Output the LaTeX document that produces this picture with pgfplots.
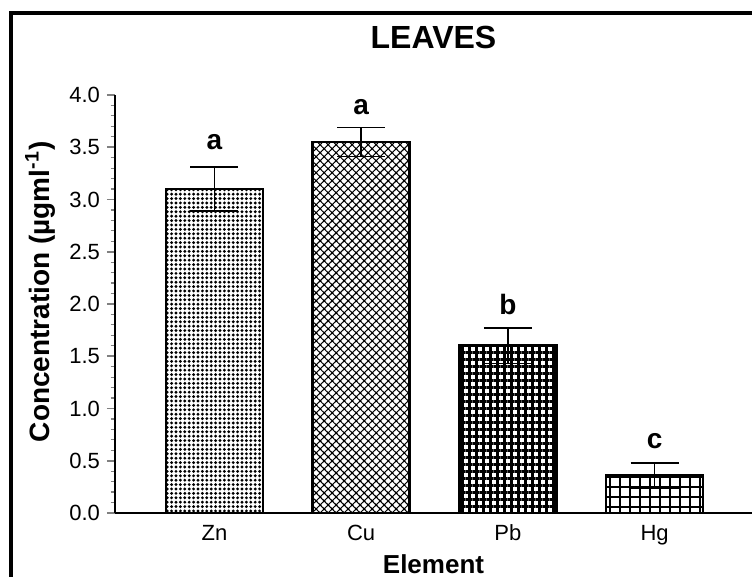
\documentclass[border=0pt]{standalone}
\usepackage{fontspec}
\setmainfont{Liberation Sans}
\usepackage{pgfplots}
\pgfplotsset{compat=1.18}
\usetikzlibrary{patterns.meta}

\begin{document}
\begin{tikzpicture}
\begin{axis}[
  scale only axis,
  width=318.5pt, height=209pt,
  xmin=-0.678, xmax=3.664,
  ymin=0, ymax=4,
  axis x line=bottom, axis y line=left,
  axis line style={-},
  x axis line style={line width=0.7pt},
  y axis line style={line width=1pt},
  clip=false,
  ybar, bar shift=0pt, bar width=48.5pt,
  xtick={0,1,2,3},
  xticklabels={Zn,Cu,Pb,Hg},
  xtick style={draw=none},
  ytick={0,0.5,...,4},
  minor y tick num=4,
  tick align=outside,
  major tick length=4pt,
  minor tick length=2.2pt,
  ytick style={line width=0.8pt},
  minor y tick style={line width=0.6pt},
  yticklabel style={/pgf/number format/.cd, fixed, fixed zerofill, precision=1},
  /pgf/number format/assume math mode=true,
  tick label style={font=\fontsize{11}{13}\selectfont},
  xticklabel style={yshift=1.5pt},
  xlabel={\textbf{Element}},
  xlabel style={at={(axis description cs:0.5,0)}, anchor=center, yshift=-25.5pt,
                font=\fontsize{13}{14}\selectfont},
  ylabel={\textbf{Concentration (µgml\textsuperscript{-1})}},
  ylabel style={at={(axis description cs:-0.1177,0.529)}, anchor=center,
                font=\fontsize{14}{15}\selectfont},
  every axis plot/.append style={draw=black, line width=1.3pt},
  error bars/error bar style={line width=0.7pt},
  error bars/error mark options={line width=0.7pt, mark size=12pt, rotate=90},
]
% Zn
\addplot[pattern={Dots[distance=2.2pt, radius=0.8pt]},
  error bars/.cd, y dir=both, y explicit]
  coordinates {(0,3.10) +- (0,0.21)};
% Cu
\addplot[pattern={Hatch[angle=45, distance=2.83pt, line width=0.55pt]},
  error bars/.cd, y dir=both, y explicit]
  coordinates {(1,3.55) +- (0,0.14)};
% Pb
\addplot[pattern={Hatch[angle=0, distance=3.5pt, line width=1.5pt]},
  error bars/.cd, y dir=both, y explicit]
  coordinates {(2,1.60) +- (0,0.17)};
% Hg
\addplot[pattern={Hatch[angle=0, distance=5pt, line width=0.55pt]},
  error bars/.cd, y dir=both, y explicit]
  coordinates {(3,0.36) +- (0,0.12)};

% significance letters
\begin{scope}[every node/.style={font=\bfseries\fontsize{14}{14}\selectfont, anchor=base, inner sep=0pt}]
\node at (axis cs:0,3.48) {a};
\node at (axis cs:1,3.81) {a};
\node at (axis cs:2,1.895) {b};
\node at (axis cs:3,0.62) {c};
\end{scope}

% title
\node[font=\bfseries\fontsize{16}{16}\selectfont, anchor=center]
  at ([yshift=29pt]axis description cs:0.5,1) {LEAVES};

% corners of the outer frame and of the page
\coordinate (FB) at ([xshift=-52pt, yshift=-40pt]axis description cs:0,0);
\coordinate (FT) at ([xshift=-52pt, yshift=41pt]axis description cs:0,1);
\coordinate (FR) at ([xshift=20pt, yshift=41pt]axis description cs:1,1);
\coordinate (PSW) at ([xshift=-57.5pt, yshift=-32pt]axis description cs:0,0);
\coordinate (PNE) at ([yshift=47.5pt]axis description cs:1,1);
\end{axis}
% outer frame
\draw[line width=2pt] (FB) -- (FT) -- (FR);
\pgfresetboundingbox
\path[use as bounding box] (PSW) rectangle (PNE);
\end{tikzpicture}
\end{document}
